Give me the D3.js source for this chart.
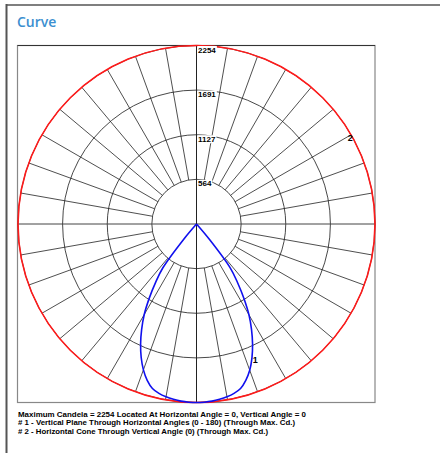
<!DOCTYPE html>
<html>
<head>
<meta charset="utf-8">
<script src="https://cdn.jsdelivr.net/npm/d3@7"></script>
<style>
  html, body { margin: 0; padding: 0; background: #fff; }
  svg { display: block; }
</style>
</head>
<body>
<svg id="chart" width="440" height="455"></svg>
<script>
// ---- data ----
const title = "Curve";
const maxCandela = 2254;
const ringValues = [564, 1127, 1691, 2254];
const ringLabels = ["564", "1127", "1691", "2254"];
// vertical angles (deg from nadir) for the vertical plane curve (#1)
const verticalAngles = [0, 2.5, 5, 7.5, 10, 12.5, 15, 17.5, 20, 22.5, 25, 27.5, 30, 32.5, 35, 37.5, 40, 42.5, 45, 55, 65, 75, 90];
// candela at horizontal angle 0 (right half)
const candelaH0 =   [2254, 2252, 2245, 2232, 2215, 2190, 2150, 2070, 1965, 1830, 1675, 1505, 1325, 1115, 905, 705, 260, 0, 0, 0, 0, 0, 0];
// candela at horizontal angle 180 (left half)
const candelaH180 = [2254, 2252, 2245, 2232, 2215, 2190, 2150, 2070, 1960, 1825, 1670, 1500, 1320, 1110, 900, 700, 250, 0, 0, 0, 0, 0, 0];
// horizontal cone through vertical angle 0 (#2)
const horizontalAngles = [0, 22.5, 45, 67.5, 90, 112.5, 135, 157.5, 180, 202.5, 225, 247.5, 270, 292.5, 315, 337.5, 360];
const candelaCone = [2254, 2254, 2254, 2254, 2254, 2254, 2254, 2254, 2254, 2254, 2254, 2254, 2254, 2254, 2254, 2254, 2254];
const footerLines = [
  "Maximum Candela = 2254   Located At Horizontal Angle = 0, Vertical Angle = 0",
  "# 1 - Vertical Plane Through Horizontal Angles (0 - 180) (Through Max. Cd.)",
  "# 2 - Horizontal Cone Through Vertical Angle (0) (Through Max. Cd.)"
];

// ---- layout ----
const svg = d3.select("#chart");
const box = {x: 17.5, y: 45.5, w: 357.5, h: 357};
const cx = 196.5, cy = 224;
const R = 178.5;
const rScale = d3.scaleLinear().domain([0, maxCandela]).range([0, R]);
const deg = Math.PI / 180;

// outer panel
svg.append("line").attr("x1", 6.5).attr("x2", 6.5).attr("y1", 4).attr("y2", 453)
  .attr("stroke", "#555").attr("stroke-width", 2);
svg.append("line").attr("x1", 6).attr("x2", 440).attr("y1", 5).attr("y2", 5)
  .attr("stroke", "#555").attr("stroke-width", 1.5);

svg.append("text").attr("x", 17).attr("y", 27).text(title)
  .attr("font-family", "'Open Sans', sans-serif").attr("font-weight", 600)
  .attr("font-size", 14).attr("fill", "#3b8fd0");

// chart box
svg.append("rect").attr("x", box.x).attr("y", box.y).attr("width", box.w).attr("height", box.h)
  .attr("fill", "#fff").attr("stroke", "#888").attr("stroke-width", 1.2);
svg.append("line").attr("x1", box.x).attr("x2", box.x + box.w).attr("y1", box.y).attr("y2", box.y)
  .attr("stroke", "#333").attr("stroke-width", 1);

const g = svg.append("g").attr("transform", `translate(${cx},${cy})`);

// rings
g.selectAll("circle.ring").data(ringValues).join("circle")
  .attr("class", "ring").attr("r", d => rScale(d))
  .attr("fill", "none").attr("stroke", "#333").attr("stroke-width", 0.9);

// radial lines every 10 deg
const spokes = d3.range(0, 360, 10).filter(a => a % 90 !== 0);
g.selectAll("line.spoke").data(spokes).join("line")
  .attr("class", "spoke")
  .attr("x1", a => rScale(ringValues[0]) * Math.sin(a * deg))
  .attr("y1", a => -rScale(ringValues[0]) * Math.cos(a * deg))
  .attr("x2", a => R * Math.sin(a * deg))
  .attr("y2", a => -R * Math.cos(a * deg))
  .attr("stroke", "#222").attr("stroke-width", 0.8);

// axes
g.append("line").attr("x1", box.x - cx).attr("x2", box.x + box.w - cx).attr("y1", 0).attr("y2", 0)
  .attr("stroke", "#444").attr("stroke-width", 1);
g.append("line").attr("x1", 0).attr("x2", 0).attr("y1", box.y - cy).attr("y2", box.y + box.h - cy)
  .attr("stroke", "#222").attr("stroke-width", 1);

// curve #2 (red) horizontal cone
const coneLine = d3.lineRadial()
  .angle((d, i) => horizontalAngles[i] * deg)
  .radius(d => rScale(d))
  .curve(d3.curveCardinalClosed);
g.append("path").datum(candelaCone.slice(0, -1))
  .attr("d", coneLine).attr("fill", "none").attr("stroke", "#ff1a1a").attr("stroke-width", 1.6);

// curve #1 (blue) vertical plane
const pts = [];
for (let i = verticalAngles.length - 1; i >= 0; i--) pts.push({a: Math.PI + verticalAngles[i] * deg, c: candelaH180[i]});
for (let i = 1; i < verticalAngles.length; i++) pts.push({a: Math.PI - verticalAngles[i] * deg, c: candelaH0[i]});
const vLine = d3.lineRadial().angle(d => d.a).radius(d => rScale(d.c)).curve(d3.curveCatmullRom);
g.append("path").datum(pts).attr("d", vLine)
  .attr("fill", "none").attr("stroke", "#1010ee").attr("stroke-width", 1.6);

// ring labels
ringValues.forEach((v, i) => {
  const y = -rScale(v);
  const t = g.append("text").attr("x", 1.5).attr("y", y + 7)
    .attr("font-family", "'Liberation Sans', Arial, sans-serif").attr("font-size", 8)
    .attr("font-weight", "bold").attr("fill", "#000").text(ringLabels[i]);
  const bb = t.node().getBBox();
  g.insert("rect", "text").attr("x", bb.x - 0.5).attr("y", bb.y + 0.5).attr("width", bb.width + 1).attr("height", bb.height - 1)
    .attr("fill", "#fff");
});

// curve labels
const li = verticalAngles.indexOf(22.5);
const l1a = Math.PI - verticalAngles[li] * deg, l1r = rScale(candelaH0[li]) + 2;
g.append("text").attr("x", l1r * Math.sin(l1a)).attr("y", -l1r * Math.cos(l1a) + 3)
  .attr("font-family", "'Liberation Sans', Arial, sans-serif").attr("font-size", 9).attr("font-weight", "bold")
  .text("1");
const l2a = 61 * deg, l2r = rScale(candelaCone[0]) - 2;
g.append("text").attr("x", l2r * Math.sin(l2a) - 3).attr("y", -l2r * Math.cos(l2a) + 3)
  .attr("font-family", "'Liberation Sans', Arial, sans-serif").attr("font-size", 9).attr("font-weight", "bold")
  .text("2");

// footer
const footerW = [288, 277, 250];
footerLines.forEach((s, i) => {
  svg.append("text").attr("x", 18).attr("y", 416.5 + i * 8.5)
    .attr("font-family", "'Liberation Sans', Arial, sans-serif").attr("font-size", 7.5)
    .attr("font-weight", "bold").attr("fill", "#000")
    .attr("textLength", footerW[i]).attr("lengthAdjust", "spacingAndGlyphs")
    .text(s);
});
</script>
</body>
</html>
